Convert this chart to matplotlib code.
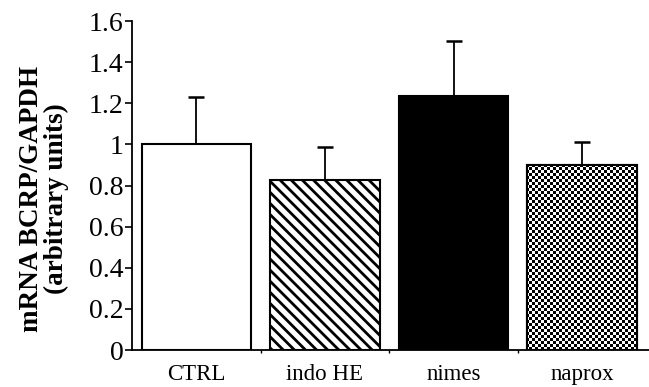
import numpy as np
import matplotlib
matplotlib.use("Agg")
from matplotlib import pyplot as plt

groups = ["CTRL", "indo HE", "nimes", "naprox"]
means = [1.0, 0.825, 1.235, 0.90]
errors = [0.23, 0.16, 0.27, 0.11]
yticks = [0, 0.2, 0.4, 0.6, 0.8, 1.0, 1.2, 1.4, 1.6]
ytick_labels = ["0", "0.2", "0.4", "0.6", "0.8", "1", "1.2", "1.4", "1.6"]

plt.rcParams["font.family"] = ["Liberation Serif", "DejaVu Serif"]
plt.rcParams["hatch.linewidth"] = 2.0

fig = plt.figure(figsize=(6.49, 3.87), dpi=100)
ax = fig.add_axes([0.2034, 0.0956, 0.7966, 0.8501])

x = np.arange(len(groups))
faces = ["white", "white", "black", "white"]
hatches = [None, "\\\\\\", None, None]
bars = ax.bar(x, means, width=0.85, color=faces, edgecolor="black",
              linewidth=1.5, hatch=hatches, zorder=2)
ax.errorbar(x, means, yerr=[np.zeros(len(means)), errors], fmt="none",
            ecolor="black", elinewidth=1.3, capsize=5.5, capthick=1.8, zorder=1)

ax.set_xlim(-0.5, 3.52)
ax.set_ylim(0, 1.6)

# checkerboard fill for the naprox bar, clipped to the bar shape
ny, nx = 110, 173
checker = (np.add.outer(np.arange(ny), np.arange(nx)) % 2).astype(float)
im = ax.imshow(checker, cmap="gray", interpolation="nearest", aspect="auto",
               extent=[-0.5, 3.52, 0, 1.6], zorder=2.5)
im.set_clip_path(bars[3])
ax.bar(x[3], means[3], width=0.85, color="none", edgecolor="black",
       linewidth=1.5, zorder=3)

ax.set_yticks(yticks)
ax.set_yticklabels(ytick_labels, fontsize=20)
ax.set_xticks(x)
ax.set_xticklabels(groups, fontsize=16.5)
ax.tick_params(axis="x", length=0, pad=10)
ax.tick_params(axis="y", length=5, width=1.2, pad=1)
ax.set_xticks([0.5, 1.5, 2.5], minor=True)
ax.tick_params(axis="x", which="minor", length=2, width=1)

ax.spines["top"].set_visible(False)
ax.spines["right"].set_visible(False)
ax.spines["left"].set_linewidth(1.3)
ax.spines["bottom"].set_linewidth(1.3)

ax.set_ylabel("mRNA BCRP/GAPDH\n(arbitrary units)", fontsize=19.5,
              fontweight="bold", linespacing=1.0)
ax.yaxis.set_label_coords(-0.122, 0.46)

fig.savefig("out.png", dpi=100)
